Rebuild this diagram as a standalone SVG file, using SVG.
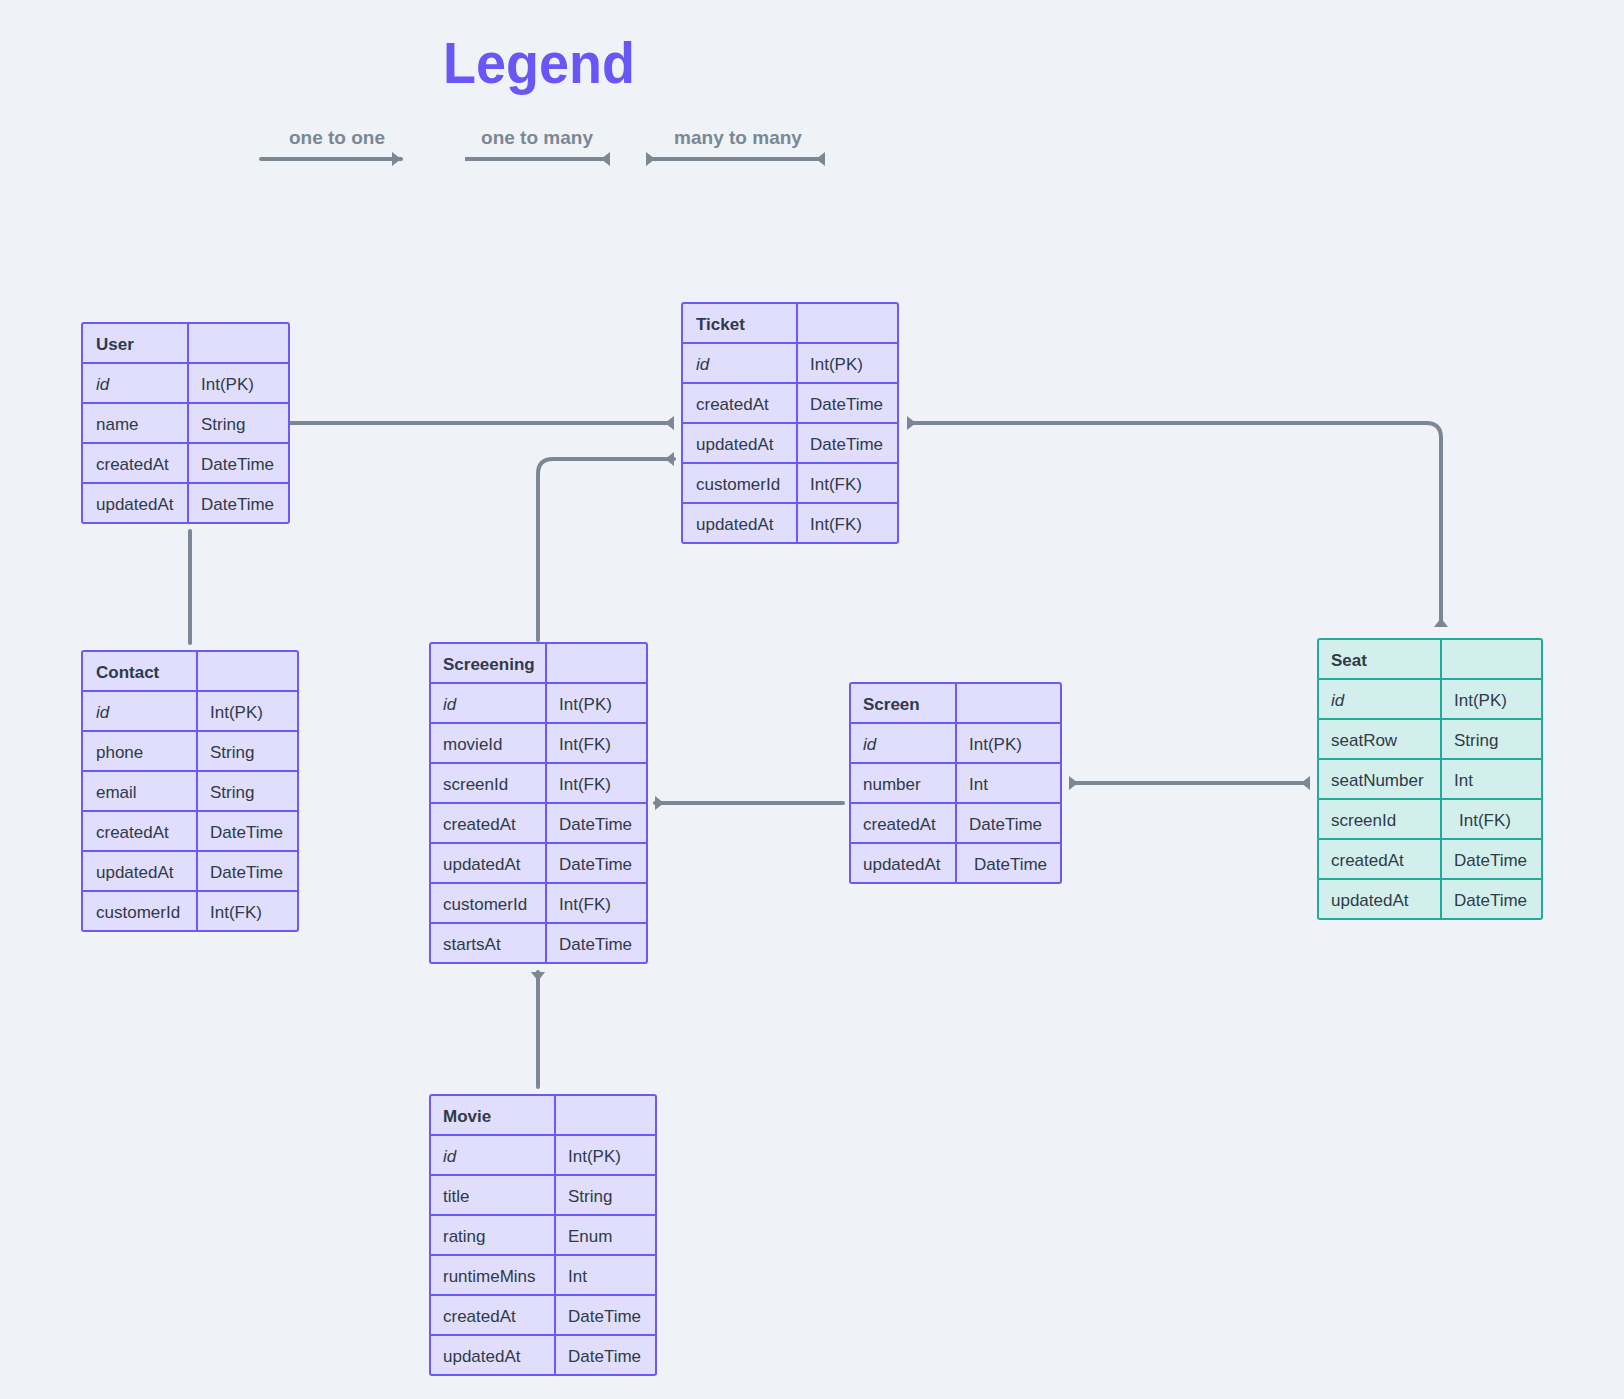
<svg xmlns="http://www.w3.org/2000/svg" width="1624" height="1399" viewBox="0 0 1624 1399">
<style>
  .bg{fill:#eff3f7}
  .tbl{fill:#e0defc;stroke:#6a5af9;stroke-width:2}
  .ln{stroke:#6a5af9;stroke-width:2}
  .tbl2{fill:#d3efec;stroke:#22aa9a;stroke-width:2}
  .ln2{stroke:#22aa9a;stroke-width:2}
  text{font-family:"Liberation Sans",Arial,sans-serif;font-size:17px;fill:#2f3a4a}
  .h{font-weight:bold}
  .i{font-style:italic}
  .title{font-size:57px;font-weight:bold;fill:#6857f5}
  .lab{font-size:19px;font-weight:bold;fill:#7b8794}
  .c{fill:none;stroke:#7b8794;stroke-width:4}
  .r{stroke-linecap:round}
</style>
<defs>
  <marker id="many" viewBox="-11 -9 12 18" refX="0" refY="0" markerWidth="12" markerHeight="18" markerUnits="userSpaceOnUse" orient="auto-start-reverse">
    <path d="M0,-7 L0,7 L-9,0 Z" fill="#7b8794"/>
  </marker>
  <marker id="one" viewBox="-11 -9 12 18" refX="0" refY="0" markerWidth="12" markerHeight="18" markerUnits="userSpaceOnUse" orient="auto">
    <path d="M-9,-7 L0,0 L-9,7 Z" fill="#7b8794"/>
  </marker>
</defs>
<rect class="bg" x="0" y="0" width="1624" height="1399"/>

<g id="legend">
  <text class="title" x="539" y="83" text-anchor="middle" textLength="192" lengthAdjust="spacingAndGlyphs">Legend</text>
  <text class="lab" x="337" y="144" text-anchor="middle">one to one</text>
  <text class="lab" x="537" y="144" text-anchor="middle">one to many</text>
  <text class="lab" x="738" y="144" text-anchor="middle">many to many</text>
  <path class="c r" d="M261,159 H401" marker-end="url(#one)"/>
  <path class="c" d="M465,159 H610" marker-end="url(#many)"/>
  <path class="c" d="M646,159 H825" marker-start="url(#many)" marker-end="url(#many)"/>
</g>

<g id="connectors">
  <path class="c" d="M290,423 H674" marker-end="url(#many)"/>
  <path class="c r" d="M538,640 V474 Q538,459 553,459 H674" marker-end="url(#many)"/>
  <path class="c" d="M907,423 H1426 Q1441,423 1441,438 V627" marker-start="url(#many)" marker-end="url(#many)"/>
  <path class="c r" d="M843,803 H655" marker-end="url(#many)"/>
  <path class="c" d="M1069,783 H1310" marker-start="url(#many)" marker-end="url(#many)"/>
  <path class="c r" d="M538,1087 V972" marker-end="url(#many)"/>
  <path class="c r" d="M190,531 V643"/>
</g>

<g id="user">
  <rect class="tbl" x="82" y="323" width="207" height="200" rx="2"/>
  <path class="ln" d="M82,363 H289 M82,403 H289 M82,443 H289 M82,483 H289 M188,323 V523"/>
  <text class="h" x="96" y="349.5">User</text>
  <text class="i" x="96" y="389.5">id</text><text x="201" y="389.5">Int(PK)</text>
  <text x="96" y="429.5">name</text><text x="201" y="429.5">String</text>
  <text x="96" y="469.5">createdAt</text><text x="201" y="469.5">DateTime</text>
  <text x="96" y="509.5">updatedAt</text><text x="201" y="509.5">DateTime</text>
</g>

<g id="ticket">
  <rect class="tbl" x="682" y="303" width="216" height="240" rx="2"/>
  <path class="ln" d="M682,343 H898 M682,383 H898 M682,423 H898 M682,463 H898 M682,503 H898 M797,303 V543"/>
  <text class="h" x="696" y="329.5">Ticket</text>
  <text class="i" x="696" y="369.5">id</text><text x="810" y="369.5">Int(PK)</text>
  <text x="696" y="409.5">createdAt</text><text x="810" y="409.5">DateTime</text>
  <text x="696" y="449.5">updatedAt</text><text x="810" y="449.5">DateTime</text>
  <text x="696" y="489.5">customerId</text><text x="810" y="489.5">Int(FK)</text>
  <text x="696" y="529.5">updatedAt</text><text x="810" y="529.5">Int(FK)</text>
</g>

<g id="contact">
  <rect class="tbl" x="82" y="651" width="216" height="280" rx="2"/>
  <path class="ln" d="M82,691 H298 M82,731 H298 M82,771 H298 M82,811 H298 M82,851 H298 M82,891 H298 M197,651 V931"/>
  <text class="h" x="96" y="677.5">Contact</text>
  <text class="i" x="96" y="717.5">id</text><text x="210" y="717.5">Int(PK)</text>
  <text x="96" y="757.5">phone</text><text x="210" y="757.5">String</text>
  <text x="96" y="797.5">email</text><text x="210" y="797.5">String</text>
  <text x="96" y="837.5">createdAt</text><text x="210" y="837.5">DateTime</text>
  <text x="96" y="877.5">updatedAt</text><text x="210" y="877.5">DateTime</text>
  <text x="96" y="917.5">customerId</text><text x="210" y="917.5">Int(FK)</text>
</g>

<g id="screening">
  <rect class="tbl" x="430" y="643" width="217" height="320" rx="2"/>
  <path class="ln" d="M430,683 H647 M430,723 H647 M430,763 H647 M430,803 H647 M430,843 H647 M430,883 H647 M430,923 H647 M546,643 V963"/>
  <text class="h" x="443" y="669.5">Screeening</text>
  <text class="i" x="443" y="709.5">id</text><text x="559" y="709.5">Int(PK)</text>
  <text x="443" y="749.5">movieId</text><text x="559" y="749.5">Int(FK)</text>
  <text x="443" y="789.5">screenId</text><text x="559" y="789.5">Int(FK)</text>
  <text x="443" y="829.5">createdAt</text><text x="559" y="829.5">DateTime</text>
  <text x="443" y="869.5">updatedAt</text><text x="559" y="869.5">DateTime</text>
  <text x="443" y="909.5">customerId</text><text x="559" y="909.5">Int(FK)</text>
  <text x="443" y="949.5">startsAt</text><text x="559" y="949.5">DateTime</text>
</g>

<g id="screen">
  <rect class="tbl" x="850" y="683" width="211" height="200" rx="2"/>
  <path class="ln" d="M850,723 H1061 M850,763 H1061 M850,803 H1061 M850,843 H1061 M956,683 V883"/>
  <text class="h" x="863" y="709.5">Screen</text>
  <text class="i" x="863" y="749.5">id</text><text x="969" y="749.5">Int(PK)</text>
  <text x="863" y="789.5">number</text><text x="969" y="789.5">Int</text>
  <text x="863" y="829.5">createdAt</text><text x="969" y="829.5">DateTime</text>
  <text x="863" y="869.5">updatedAt</text><text x="974" y="869.5">DateTime</text>
</g>

<g id="seat">
  <rect class="tbl2" x="1318" y="639" width="224" height="280" rx="2"/>
  <path class="ln2" d="M1318,679 H1542 M1318,719 H1542 M1318,759 H1542 M1318,799 H1542 M1318,839 H1542 M1318,879 H1542 M1441,639 V919"/>
  <text class="h" x="1331" y="665.5">Seat</text>
  <text class="i" x="1331" y="705.5">id</text><text x="1454" y="705.5">Int(PK)</text>
  <text x="1331" y="745.5">seatRow</text><text x="1454" y="745.5">String</text>
  <text x="1331" y="785.5">seatNumber</text><text x="1454" y="785.5">Int</text>
  <text x="1331" y="825.5">screenId</text><text x="1459" y="825.5">Int(FK)</text>
  <text x="1331" y="865.5">createdAt</text><text x="1454" y="865.5">DateTime</text>
  <text x="1331" y="905.5">updatedAt</text><text x="1454" y="905.5">DateTime</text>
</g>

<g id="movie">
  <rect class="tbl" x="430" y="1095" width="226" height="280" rx="2"/>
  <path class="ln" d="M430,1135 H656 M430,1175 H656 M430,1215 H656 M430,1255 H656 M430,1295 H656 M430,1335 H656 M555,1095 V1375"/>
  <text class="h" x="443" y="1121.5">Movie</text>
  <text class="i" x="443" y="1161.5">id</text><text x="568" y="1161.5">Int(PK)</text>
  <text x="443" y="1201.5">title</text><text x="568" y="1201.5">String</text>
  <text x="443" y="1241.5">rating</text><text x="568" y="1241.5">Enum</text>
  <text x="443" y="1281.5">runtimeMins</text><text x="568" y="1281.5">Int</text>
  <text x="443" y="1321.5">createdAt</text><text x="568" y="1321.5">DateTime</text>
  <text x="443" y="1361.5">updatedAt</text><text x="568" y="1361.5">DateTime</text>
</g>
</svg>
